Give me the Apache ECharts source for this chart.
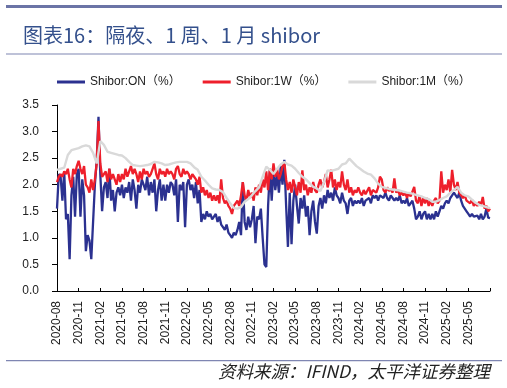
<!DOCTYPE html>
<html><head><meta charset="utf-8">
<script src="https://cdn.jsdelivr.net/npm/echarts@6/dist/echarts.min.js"></script>
<style>html,body{margin:0;padding:0;background:#fff}#c{width:507px;height:388px}</style>
</head><body><div id="c"></div>
<script>
// x in months since 2020-08; ON and 1W sampled every 0.25 month, 1M every 0.5 month
const xTickLabels = ['2020-08','2020-11','2021-02','2021-05','2021-08','2021-11','2022-02','2022-05','2022-08','2022-11','2023-02','2023-05','2023-08','2023-11','2024-02','2024-05','2024-08','2024-11','2025-02','2025-05'];
const seriesNames = ['Shibor:ON（%）','Shibor:1W（%）','Shibor:1M（%）'];
const stepWeekly = 0.25, stepHalfMonth = 0.5;
const onValues = [
1.55,2.2,2.15,1.7, 2.25,1.35,1.45,0.6, 1.8,2.15,1.4,2.2, 2.3,1.4,2.1,1.8, 0.75,1.05,0.95,0.6, 0.6,2.0,2.45,3.28,
2.2,1.5,1.95,2.05, 1.75,2.3,1.7,1.9, 1.5,1.85,1.95,1.8, 2.0,1.75,1.95,1.85, 2.05,1.7,2.1,1.9, 1.55,2.0,1.85,2.1,
2.0,1.9,2.15,1.8, 2.05,1.85,2.1,1.5, 1.9,2.1,1.7,2.0, 1.7,2.0,1.85,2.05, 2.0,1.8,2.1,1.3, 2.0,1.9,2.05,1.2,
2.0,2.1,1.9,2.0, 1.75,2.05,1.65,1.9, 1.3,1.45,1.35,1.5, 1.4,1.45,1.35,1.4, 1.45,1.3,1.4,1.25, 1.2,1.15,1.25,1.1,
1.05,1.0,1.1,1.05, 1.15,1.3,1.05,2.05, 1.3,1.15,1.4,1.2, 1.35,1.6,0.9,1.4, 1.35,1.55,1.0,0.5, 0.45,1.6,2.28,1.7,
2.3,1.9,2.2,1.85, 2.35,2.0,2.47,1.6, 0.83,1.85,0.88,1.7, 2.0,1.6,1.27,1.75, 1.55,1.8,1.4,1.6, 1.05,1.5,1.7,1.3,
1.08,1.6,1.75,1.55, 1.8,1.65,1.9,1.75, 1.85,1.7,1.95,1.8, 1.75,1.65,1.85,1.7, 1.65,1.45,1.7,1.75, 1.6,1.7,1.65,1.7,
1.65,1.75,1.6,1.7, 1.7,1.75,1.65,1.8, 1.75,1.8,1.7,1.8, 1.8,1.75,1.85,1.75, 1.7,1.8,1.75,1.7, 1.75,1.7,1.8,1.65,
1.7,1.65,1.75,1.6, 1.65,1.7,1.55,1.35, 1.4,1.5,1.35,1.45, 1.5,1.35,1.45,1.35, 1.45,1.35,1.5,1.4, 1.5,1.6,1.55,1.65,
1.7,1.65,1.75,1.8, 1.85,1.8,1.75,1.85, 1.7,1.6,1.55,1.5, 1.45,1.4,1.45,1.4, 1.38,1.42,1.35,1.45, 1.35,1.4,1.55,1.38,
1.37];
const w1Values = [
2.05,2.15,2.2,2.15, 2.25,2.2,2.3,2.1, 1.95,2.3,2.2,2.35, 2.45,2.3,2.2,2.35, 2.0,1.95,1.85,2.1, 1.9,2.1,2.4,3.2,
2.4,2.15,2.2,2.25, 2.05,2.3,2.1,2.2, 2.1,2.0,2.2,2.05, 2.2,2.1,2.3,2.15, 2.15,2.35,2.2,2.3, 2.2,2.05,2.25,2.1,
2.3,2.2,2.25,2.15, 2.2,2.3,2.4,2.2, 2.1,2.3,2.2,2.25, 2.15,2.3,2.2,2.25, 2.2,2.1,2.3,2.35, 2.2,2.15,2.3,2.2,
2.25,2.2,2.1,2.2, 2.15,2.1,2.0,2.15, 1.85,1.95,1.8,1.9, 1.75,1.85,1.7,1.8, 1.7,1.8,1.65,2.1, 1.75,1.65,1.7,1.6,
1.55,1.45,1.6,1.65, 1.7,1.6,1.8,2.05, 1.8,1.7,1.9,1.75, 1.85,1.7,1.95,1.8, 2.0,1.85,2.1,1.95, 2.25,1.9,2.3,2.1,
2.4,2.15,2.3,2.1, 2.2,2.35,2.43,2.1, 1.9,2.05,1.85,2.1, 1.95,1.8,2.05,1.85, 2.27,1.9,2.0,1.8, 1.95,1.85,2.05,1.9,
1.85,2.0,2.1,1.95, 2.05,2.2,1.95,2.1, 2.28,1.95,2.1,1.9, 2.05,1.95,2.25,2.0, 1.9,2.1,1.85,1.95, 1.8,1.9,1.85,1.95,
1.85,1.8,1.9,1.82, 1.85,1.95,1.8,1.9, 1.9,1.85,1.95,2.15, 2.1,1.9,1.85,1.95, 1.88,1.92,1.85,2.12, 1.85,1.9,1.8,1.85,
1.8,1.85,1.75,1.85, 1.78,1.8,1.96,1.7, 1.65,1.8,1.6,1.75, 1.65,1.75,1.6,1.7, 1.6,1.7,1.75,1.65, 1.7,2.25,1.85,2.0,
1.9,2.1,1.85,2.28, 2.0,1.9,2.05,1.85, 1.85,1.75,1.8,1.7, 1.7,1.65,1.72,1.6, 1.65,1.6,1.68,1.62, 1.77,1.55,1.6,1.5,
1.55];
const m1Values = [
2.28,2.3, 2.32,2.56, 2.65,2.67, 2.69,2.72, 2.74,2.72, 2.6,2.4, 2.82,2.75, 2.62,2.6, 2.58,2.56, 2.55,2.5,
2.43,2.37, 2.36,2.35, 2.36,2.37, 2.39,2.43, 2.42,2.4, 2.37,2.38, 2.4,2.42, 2.43,2.43, 2.43,2.4, 2.33,2.28,
2.15,2.08, 2.0,1.93, 1.91,1.9, 1.86,1.75, 1.65,1.56, 1.55,1.58, 1.68,1.73, 1.8,1.88, 1.95,2.15, 2.34,2.28,
2.2,2.3, 2.38,2.43, 2.38,2.36, 2.3,2.22, 2.15,2.1, 2.03,1.96, 1.93,1.88, 2.05,2.27, 2.26,2.28, 2.3,2.38,
2.4,2.49, 2.42,2.35, 2.3,2.25, 2.21,2.19, 2.12,2.02, 1.96,1.94, 1.92,1.91, 1.9,1.89, 1.87,1.85, 1.84,1.82,
1.8,1.78, 1.75,1.73, 1.68,1.68, 1.71,1.75, 1.78,1.85, 1.9,1.96, 1.85,1.8, 1.78,1.72, 1.66,1.62, 1.6,1.58,
1.56];

const toPairs = (vals, step) => vals.map((v, i) => [i * step, v]);
const labelFont = 'Liberation Sans, Arial, Noto Sans CJK SC, sans-serif';
const chart = echarts.init(document.getElementById('c'), null, {renderer: 'canvas'});
chart.setOption({
  animation: false,
  backgroundColor: '#fff',
  title: {
    text: '图表16：隔夜、1 周、1 月 shibor',
    left: 18, top: 20,
    textStyle: {color: '#34508c', fontSize: 20, fontWeight: 'normal', fontFamily: 'Noto Sans CJK SC, sans-serif'}
  },
  graphic: [
    {type: 'rect', shape: {x: 6, y: 5, width: 496, height: 3}, style: {fill: '#6b74a6'}},
    {type: 'rect', shape: {x: 6, y: 53.5, width: 496, height: 1}, style: {fill: '#7f86b2'}},
    {type: 'rect', shape: {x: 6, y: 360, width: 496, height: 1.2}, style: {fill: '#7f86b2'}},
    {type: 'text', right: 17, top: 363, style: {text: '资料来源：IFIND，太平洋证券整理', fill: '#222',
      font: 'italic 17.5px "Noto Sans CJK SC", sans-serif'}}
  ],
  legend: {
    left: 52, top: 71, itemWidth: 28, itemHeight: 3, itemGap: 22, icon: 'rect',
    textStyle: {fontSize: 12, color: '#222', fontFamily: labelFont},
    data: seriesNames
  },
  grid: {left: 57, right: 17, top: 105, bottom: 97, outerBoundsMode: 'none'},
  xAxis: {
    type: 'value', min: 0, max: 60, interval: 3,
    axisLine: {lineStyle: {color: '#000', width: 1}},
    axisTick: {inside: true, length: 3, lineStyle: {color: '#000'}},
    splitLine: {show: false},
    axisLabel: {rotate: 90, margin: 10, fontSize: 12, color: '#222', fontFamily: labelFont,
      formatter: v => xTickLabels[Math.round(v / 3)] || ''}
  },
  yAxis: {
    type: 'value', min: 0, max: 3.5, interval: 0.5,
    axisLine: {show: true, lineStyle: {color: '#000', width: 1}},
    axisTick: {show: true, length: 5, lineStyle: {color: '#000'}},
    splitLine: {show: false},
    axisLabel: {margin: 18, fontSize: 12, color: '#222', fontFamily: labelFont, formatter: v => v.toFixed(1)}
  },
  series: [
    {name: seriesNames[0], type: 'line', data: toPairs(onValues, stepWeekly), showSymbol: false, symbol: 'none',
      lineStyle: {color: '#2b3190', width: 2.3}, itemStyle: {color: '#2b3190'}},
    {name: seriesNames[1], type: 'line', data: toPairs(w1Values, stepWeekly), showSymbol: false, symbol: 'none',
      lineStyle: {color: '#ee1f2b', width: 2.3}, itemStyle: {color: '#ee1f2b'}},
    {name: seriesNames[2], type: 'line', data: toPairs(m1Values, stepHalfMonth), showSymbol: false, symbol: 'none',
      lineStyle: {color: '#d9d9d9', width: 2.4}, itemStyle: {color: '#d9d9d9'}}
  ]
});
</script></body></html>
